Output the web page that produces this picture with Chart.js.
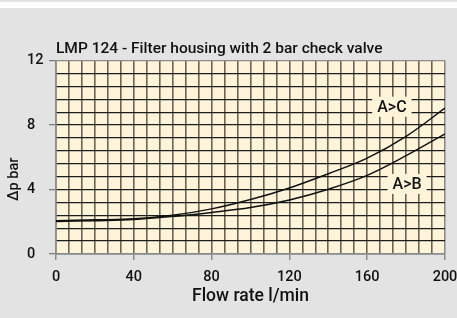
<!DOCTYPE html>
<html>
<head>
<meta charset="utf-8">
<script src="https://cdn.jsdelivr.net/npm/chart.js@4.4.0/dist/chart.umd.min.js"></script>
<style>
  html, body { margin: 0; padding: 0; background: #fff; }
  canvas { display: block; }
</style>
</head>
<body>
<canvas id="chart" width="457" height="318"></canvas>
<script>
// values
const flowRate = [0, 20, 40, 60, 80, 100, 120, 140, 160, 180, 200];
const dpAtoC = [2.07, 2.12, 2.18, 2.4, 2.8, 3.38, 4.1, 4.98, 5.95, 7.3, 9.05];
const dpAtoB = [2.02, 2.07, 2.14, 2.33, 2.58, 2.88, 3.35, 4.02, 4.88, 6.1, 7.45];
const xTickLabels = [0, 40, 80, 120, 160, 200];
const yTickLabels = [0, 4, 8, 12];

const cream = '#fef4da';
const fontFam = 'Roboto, "Liberation Sans", Arial, sans-serif';

// grey panel + cream plot area
const backdrop = {
  id: 'backdrop',
  afterLayout(chart) {
    // the y title sits a little below the middle of the plot
    const s = chart.scales.yTitle;
    s.top += 22;
    s.bottom += 22;
  },
  beforeDraw(chart) {
    const { ctx, width, height, chartArea: a } = chart;
    ctx.save();
    ctx.fillStyle = '#fff';
    ctx.fillRect(0, 0, width, height);
    ctx.fillStyle = '#e3e3e3';
    ctx.fillRect(0, 0, width, 2);
    ctx.fillRect(0, 8, width, height - 8);
    ctx.fillStyle = cream;
    ctx.fillRect(a.left, a.top, a.right - a.left, a.bottom - a.top);
    ctx.restore();
  }
};

// curve names sitting on the grid
const curveTags = {
  id: 'curveTags',
  afterDatasetsDraw(chart) {
    const { ctx, scales: { x, y } } = chart;
    const tags = [
      { text: 'A>C', at: [172.7, 9.14] },
      { text: 'A>B', at: [180.5, 4.35] }
    ];
    ctx.save();
    ctx.font = '500 16px ' + fontFam;
    ctx.textAlign = 'center';
    ctx.textBaseline = 'middle';
    tags.forEach(t => {
      const px = x.getPixelForValue(t.at[0]);
      const py = y.getPixelForValue(t.at[1]);
      const w = ctx.measureText(t.text).width + 10;
      ctx.fillStyle = cream;
      ctx.fillRect(px - w / 2, py - 10, w, 20);
      ctx.fillStyle = '#111';
      ctx.fillText(t.text, px, py + 1);
    });
    ctx.restore();
  }
};

new Chart(document.getElementById('chart'), {
  type: 'line',
  data: {
    datasets: [
      {
        label: 'A>C',
        data: flowRate.map((f, i) => ({ x: f, y: dpAtoC[i] })),
        borderColor: '#111',
        borderWidth: 1.5,
        pointRadius: 0,
        tension: 0.35
      },
      {
        label: 'A>B',
        data: flowRate.map((f, i) => ({ x: f, y: dpAtoB[i] })),
        borderColor: '#111',
        borderWidth: 1.5,
        pointRadius: 0,
        tension: 0.35
      }
    ]
  },
  plugins: [backdrop, curveTags],
  options: {
    responsive: false,
    animation: false,
    layout: { padding: 0 },
    plugins: {
      legend: { display: false },
      tooltip: { enabled: false },
      title: {
        display: true,
        text: 'LMP 124 - Filter housing with 2 bar check valve',
        align: 'start',
        fullSize: false,
        color: '#111',
        font: { family: fontFam, size: 15.5, weight: 500 },
        padding: { top: 40, bottom: 2 }
      }
    },
    scales: {
      x: {
        type: 'linear',
        min: 0,
        max: 200,
        // fixed band under the plot, like the catalogue sheet
        afterFit: s => { s.height = 64; s.paddingRight = 12; },
        ticks: {
          count: 31,
          autoSkip: false,
          maxRotation: 0,
          padding: 10,
          color: '#111',
          font: { family: fontFam, size: 14.5, weight: 500, lineHeight: 1 },
          callback: (v, i) => (i % 6 === 0 ? xTickLabels[i / 6] : '')
        },
        grid: {
          color: c => (c.index === 30 ? '#8c8c8c' : '#6b6455'),
          lineWidth: 1.6,
          tickLength: 6,
          tickWidth: 1.2,
          tickColor: c => (c.index % 6 === 0 ? '#777' : 'rgba(0,0,0,0)')
        },
        border: { color: '#8c8c8c', width: 1.5 },
        title: {
          display: true,
          text: 'Flow rate l/min',
          color: '#111',
          font: { family: fontFam, size: 17.5, weight: 500, lineHeight: 1 },
          padding: { top: 4, bottom: 13 }
        }
      },
      y: {
        min: 0,
        max: 12,
        afterFit: s => { s.width = 29; },
        ticks: {
          count: 16,
          autoSkip: false,
          crossAlign: 'far',
          color: '#111',
          font: { family: fontFam, size: 14.5, weight: 500 },
          callback: (v, i) => (i % 5 === 0 ? yTickLabels[i / 5] : '')
        },
        grid: {
          color: c => (c.index === 15 ? '#8c8c8c' : '#1c1c1c'),
          lineWidth: 1.3,
          tickLength: 7,
          tickWidth: 1.2,
          tickColor: c => (c.index % 5 === 0 ? '#777' : 'rgba(0,0,0,0)')
        },
        border: { color: '#8c8c8c', width: 1.5 }
      },
      yTitle: {
        type: 'linear',
        position: 'left',
        weight: 1,
        afterFit: s => { s.width = 27; },
        grid: { display: false },
        border: { display: false },
        ticks: { display: false },
        title: {
          display: true,
          text: 'Δp bar',
          color: '#111',
          font: { family: fontFam, size: 14.5, weight: 500 },
          padding: { top: 6, bottom: 0 }
        }
      }
    }
  }
});
</script>
</body>
</html>
